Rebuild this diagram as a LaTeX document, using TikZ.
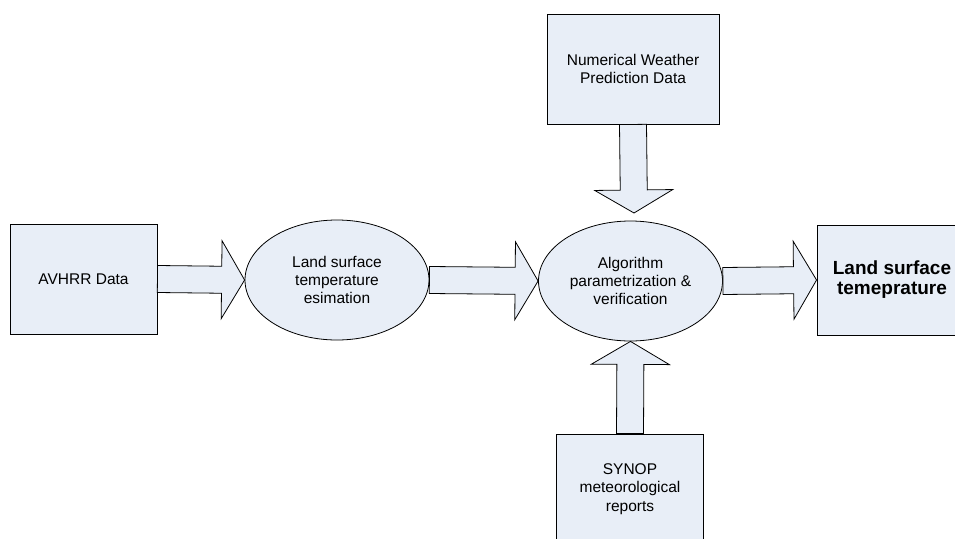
\documentclass[tikz,border=0pt]{standalone}
\usepackage{fontspec}
\setmainfont{Liberation Sans}
\usepackage{tikz}
\usetikzlibrary{calc}
\usetikzlibrary{shapes}

\definecolor{boxfill}{RGB}{232,238,247}

% thick block arrow from #1 to #2
\newcommand{\fatarrow}[2]{%
	\coordinate (h) at ($(#2)!23pt!(#1)$);
	\draw[fatarr] ($(#1)!13.5pt!90:(#2)$) -- ($(h)!13.5pt!90:(#2)$) -- ($(h)!39pt!90:(#2)$)
		-- (#2) -- ($(h)!39pt!-90:(#2)$) -- ($(h)!13.5pt!-90:(#2)$) -- ($(#1)!13.5pt!-90:(#2)$) -- cycle;
}

\begin{document}
\begin{tikzpicture}[x=1pt,y=-1pt,
			every node/.style={font=\fontsize{15.5}{18.3}\selectfont, align=center},
			box/.style={draw, fill=boxfill, line width=0.9pt, minimum width=147pt, minimum height=110pt, inner sep=0pt},
			oval/.style={draw, fill=boxfill, ellipse, line width=0.8pt, minimum width=184pt, minimum height=120pt, inner sep=0pt},
			fatarr/.style={draw, fill=boxfill, line width=0.8pt, line join=miter}]
			\clip (0,0) rectangle (955,538);
			
			\node[box] (avhrr) at (83.5,279) {AVHRR Data};
			\node[oval] (lst) at (337,280) {Land surface\\ temperature\\ esimation};
			\node[oval] (alg) at (630.5,281) {Algorithm\\ parametrization \&\\ verification};
			\node[box, minimum width=172pt] (nwp) at (633,69) {Numerical Weather\\ Prediction Data};
			\node[box] (synop) at (630,489) {SYNOP\\ meteorological\\ reports};
			\node[box, minimum width=150pt, font=\bfseries\fontsize{19}{20}\selectfont] (lstout) at (892,280) {Land surface\\ temeprature};
			\coordinate (nwptip) at (634,213);
			
			\fatarrow{avhrr.east}{lst.west}
			\fatarrow{lst.east}{alg.west}
			\fatarrow{alg.east}{lstout.west}
			\fatarrow{nwp.south}{nwptip}
			\fatarrow{synop.north}{alg.south}
		\end{tikzpicture}
\end{document}
